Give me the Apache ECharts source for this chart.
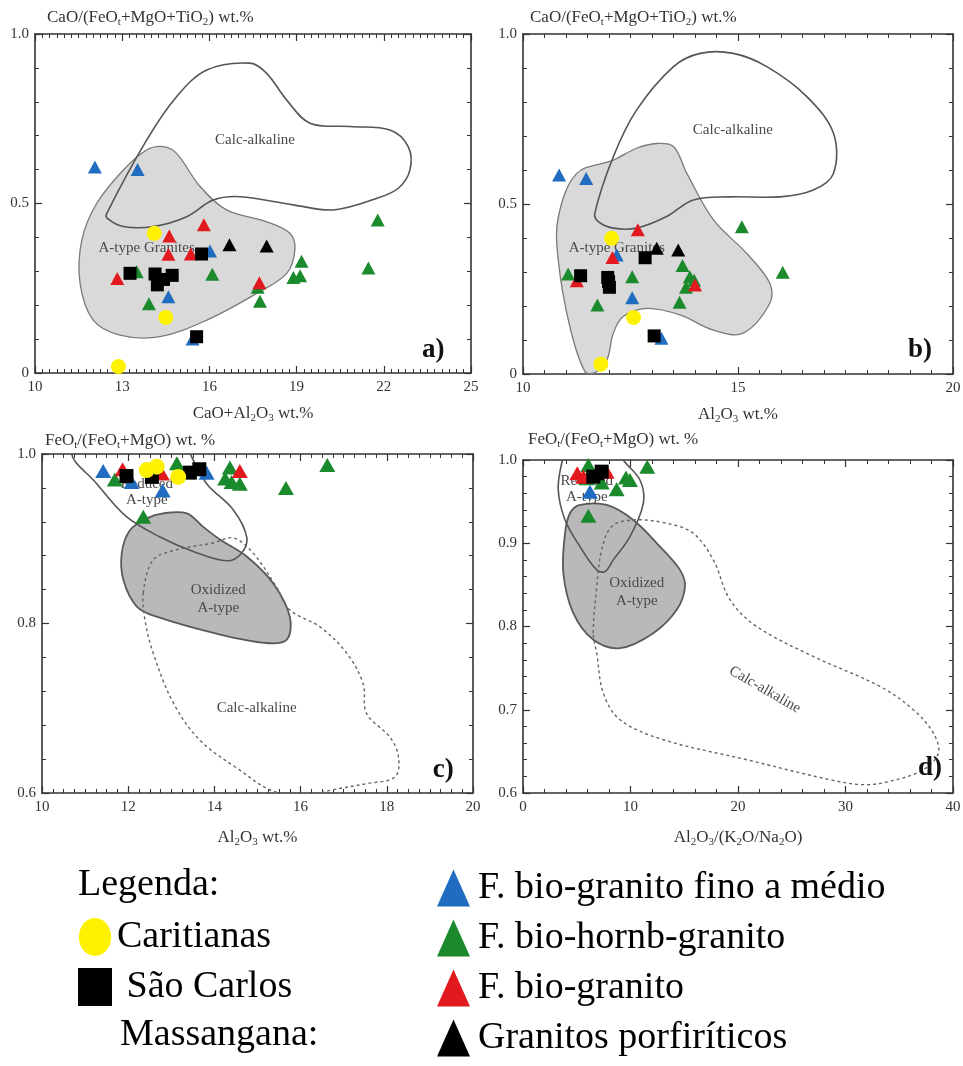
<!DOCTYPE html>
<html><head><meta charset="utf-8">
<script src="https://cdn.jsdelivr.net/npm/echarts@6/dist/echarts.min.js"></script>
<style>html,body{margin:0;padding:0;background:#fff}#c{width:963px;height:1066px}</style>
</head><body><div id="c"></div>
<script>
// ---------- series names ----------
const N_CARI = 'Caritianas';
const N_SC = 'São Carlos';
const N_BLUE = 'F. bio-granito fino a médio';
const N_GREEN = 'F. bio-hornb-granito';
const N_RED = 'F. bio-granito';
const N_BLACK = 'Granitos porfiríticos';

// ---------- panel a : CaO/(FeOt+MgO+TiO2) vs CaO+Al2O3 ----------
const a_blue = [[12.06,0.608],[13.53,0.60],[16.02,0.36],[14.59,0.225],[15.42,0.10]];
const a_green = [[21.79,0.451],[19.17,0.33],[21.47,0.31],[19.12,0.287],[18.89,0.282],[16.1,0.291],[13.5,0.299],[13.92,0.204],[17.66,0.253],[17.74,0.212]];
const a_red = [[15.81,0.437],[14.62,0.404],[14.59,0.35],[15.36,0.351],[12.83,0.279],[17.72,0.266]];
const a_blackTri = [[16.69,0.378],[17.97,0.375]];
const a_square = [[13.27,0.294],[15.73,0.351],[14.13,0.292],[14.72,0.288],[14.42,0.276],[14.21,0.26],[15.56,0.107]];
const a_yellow = [[14.1,0.412],[14.5,0.164],[12.87,0.019]];

// ---------- panel b : CaO/(FeOt+MgO+TiO2) vs Al2O3 ----------
const b_blue = [[10.84,0.585],[11.47,0.575],[12.18,0.35],[12.54,0.224],[13.22,0.105]];
const b_green = [[15.09,0.433],[16.04,0.299],[11.05,0.294],[12.54,0.286],[13.71,0.319],[13.88,0.286],[13.98,0.276],[13.79,0.255],[11.73,0.203],[13.64,0.211]];
const b_red = [[12.67,0.424],[12.08,0.343],[11.25,0.274],[14.0,0.262]];
const b_blackTri = [[13.11,0.37],[13.61,0.365]];
const b_square = [[11.34,0.289],[12.84,0.342],[11.97,0.284],[11.99,0.272],[12.01,0.255],[13.05,0.112]];
const b_yellow = [[12.06,0.399],[12.57,0.166],[11.81,0.029]];

// ---------- panel c : FeOt/(FeOt+MgO) vs Al2O3 ----------
const c_blue = [[11.42,0.980],[12.08,0.967],[12.8,0.957],[13.82,0.978]];
const c_green = [[11.69,0.970],[13.13,0.989],[14.36,0.984],[14.25,0.971],[14.4,0.967],[14.59,0.965],[15.66,0.96],[16.62,0.987],[12.35,0.926]];
const c_red = [[11.87,0.982],[12.78,0.977],[14.59,0.98]];
const c_blackTri = [[12.58,0.985]];
const c_square = [[11.96,0.974],[12.55,0.973],[13.43,0.978],[13.65,0.982]];
const c_yellow = [[12.43,0.981],[12.66,0.985],[13.16,0.973]];

// ---------- panel d : FeOt/(FeOt+MgO) vs Al2O3/(K2O/Na2O) ----------
const d_blue = [[6.23,0.962]];
const d_green = [[6.08,0.994],[11.56,0.992],[9.58,0.979],[7.32,0.973],[8.71,0.965],[5.92,0.978],[6.08,0.933],[9.95,0.976]];
const d_red = [[5.05,0.984],[7.78,0.986],[5.61,0.98]];
const d_blackTri = [[6.85,0.984]];
const d_square = [[7.32,0.986],[6.54,0.98]];
const d_yellow = [];

// ---------- field outlines (data units) ----------
const a_calcAlk = [[12.47,0.471],[13.84,0.687],[14.87,0.815],[15.91,0.894],[17.40,0.914],[17.97,0.884],[18.66,0.805],[19.46,0.737],[20.84,0.727],[22.21,0.717],[22.84,0.668],[22.90,0.599],[22.50,0.545],[21.75,0.515],[20.26,0.481],[18.89,0.496],[17.05,0.520],[16.13,0.510],[15.22,0.461],[14.07,0.432],[13.04,0.432],[12.49,0.456]];
const a_aType = [[14.41,0.668],[14.87,0.648],[15.68,0.55],[16.59,0.481],[17.97,0.446],[18.77,0.412],[18.94,0.363],[18.66,0.294],[17.63,0.235],[15.91,0.156],[14.30,0.107],[12.92,0.112],[12.0,0.156],[11.55,0.265],[11.61,0.392],[12.12,0.5],[13.04,0.599],[13.84,0.658]];
const b_calcAlk = [[11.67,0.473],[12.10,0.639],[12.64,0.776],[13.50,0.904],[14.12,0.943],[14.89,0.943],[15.67,0.904],[16.60,0.816],[17.22,0.708],[17.22,0.590],[16.75,0.541],[15.98,0.521],[14.81,0.521],[13.96,0.512],[13.34,0.463],[12.64,0.429],[12.10,0.429],[11.75,0.448]];
const b_aType = [[13.11,0.678],[13.50,0.669],[13.81,0.590],[14.43,0.453],[15.20,0.355],[15.74,0.267],[15.74,0.208],[15.12,0.120],[14.43,0.129],[13.65,0.174],[12.88,0.193],[12.33,0.169],[12.10,0.120],[11.95,0.041],[11.67,0.004],[11.44,0.007],[11.09,0.139],[10.82,0.335],[10.82,0.461],[11.25,0.590],[12.10,0.629],[12.64,0.664]];
const c_reduced = [[10.69,1.003],[11.27,0.965],[11.96,0.926],[12.74,0.902],[13.51,0.885],[14.29,0.874],[14.63,0.883],[14.75,0.902],[14.44,0.934],[13.82,0.965],[13.47,0.997],[13.2,1.03],[11.5,1.04]];
const c_oxidized = [[12.81,0.930],[13.36,0.930],[13.74,0.914],[14.13,0.899],[14.75,0.879],[15.37,0.847],[15.75,0.808],[15.68,0.781],[15.21,0.777],[14.05,0.788],[12.66,0.808],[12.20,0.820],[11.89,0.851],[11.85,0.883],[12.04,0.910],[12.43,0.924]];
const c_calcAlk = [[12.35,0.836],[12.58,0.875],[13.12,0.887],[13.97,0.895],[14.44,0.901],[14.90,0.883],[15.44,0.843],[15.75,0.816],[16.45,0.796],[17.07,0.765],[17.45,0.729],[17.53,0.694],[18.07,0.666],[18.27,0.643],[18.19,0.619],[17.53,0.611],[16.76,0.604],[16.22,0.598],[15.37,0.602],[14.59,0.627],[13.67,0.662],[13.05,0.706],[12.58,0.765],[12.39,0.804]];
const d_reduced = [[3.6,0.996],[3.28,0.964],[3.91,0.928],[5.30,0.896],[6.86,0.868],[7.63,0.866],[8.40,0.880],[9.95,0.908],[11.19,0.948],[10.88,0.976],[9.33,1.0],[8.0,1.03],[4.5,1.03]];
const d_oxidized = [[5.30,0.946],[7.79,0.946],[10.26,0.928],[12.74,0.896],[14.6,0.868],[15.07,0.848],[14.3,0.820],[12.12,0.792],[9.02,0.774],[6.54,0.784],[4.68,0.816],[3.75,0.864],[3.91,0.912],[4.37,0.936]];
const d_calcAlk = [[6.54,0.792],[6.86,0.848],[7.32,0.892],[8.25,0.920],[10.26,0.928],[13.37,0.924],[15.84,0.912],[17.70,0.880],[19.26,0.832],[21.74,0.800],[27.0,0.764],[33.21,0.728],[36.31,0.700],[38.17,0.672],[38.64,0.648],[37.24,0.628],[34.14,0.614],[31.66,0.610],[28.56,0.616],[20.81,0.640],[13.05,0.664],[9.02,0.688],[7.47,0.720],[6.86,0.768]];

// ---------- field labels [text, x, y, rotationDeg, kind] ----------
const a_labels = [['Calc-alkaline',17.57,0.687,0,''],['A-type Granites',13.84,0.368,0,''],['a)',23.7,0.068,0,'tag']];
const b_labels = [['Calc-alkaline',14.88,0.718,0,''],['A-type Granites',12.18,0.37,0,''],['b)',19.23,0.07,0,'tag']];
const c_labels = [['Reduced',12.43,0.965,0,''],['A-type',12.43,0.946,0,''],['Oxidized',14.09,0.84,0,''],['A-type',14.09,0.818,0,''],['Calc-alkaline',14.98,0.70,0,''],['c)',19.31,0.627,0,'tag']];
const d_labels = [['Reduced',5.93,0.975,0,''],['A-type',5.93,0.956,0,''],['Oxidized',10.58,0.852,0,''],['A-type',10.58,0.83,0,''],['Calc-alkaline',22.5,0.724,-30,''],['d)',37.86,0.63,0,'tag']];

// ---------- axis ticks ----------
const xTicks = [ {min:10,max:25,interval:3,minor:12}, {min:10,max:20,interval:5,minor:10}, {min:10,max:20,interval:2,minor:8}, {min:0,max:40,interval:10,minor:5} ];
const yTicks = [ {min:0,max:1,interval:0.5,minor:5}, {min:0,max:1,interval:0.5,minor:5}, {min:0.6,max:1,interval:0.2,minor:5}, {min:0.6,max:1,interval:0.1,minor:5} ];
const xNames = ['{n|CaO+Al}{s|2}{n|O}{s|3}{n| wt.%}', '{n|Al}{s|2}{n|O}{s|3}{n| wt.%}', '{n|Al}{s|2}{n|O}{s|3}{n| wt.%}', '{n|Al}{s|2}{n|O}{s|3}{n|/(K}{s|2}{n|O/Na}{s|2}{n|O)}'];
const yNames = ['{n|CaO/(FeO}{s|t}{n|+MgO+TiO}{s|2}{n|) wt.%}', '{n|CaO/(FeO}{s|t}{n|+MgO+TiO}{s|2}{n|) wt.%}', '{n|FeO}{s|t}{n|/(FeO}{s|t}{n|+MgO) wt. %}', '{n|FeO}{s|t}{n|/(FeO}{s|t}{n|+MgO) wt. %}'];

// ---------- layout / style ----------
const FONT = '"Liberation Serif", "Times New Roman", serif';
const grids = [
  {left:35, top:34, width:436, height:339},
  {left:523, top:34, width:430, height:340},
  {left:42, top:454, width:431, height:339},
  {left:523, top:460, width:430, height:333}
];
const yNameGap = [6, 6, 3, 10];
const yNamePad = [12, 7, 3, 5];
const xNameGap = [31, 31, 35, 35];
const COL = {blue:'#1f6cc0', green:'#1a8a2c', red:'#e2191f', black:'#000000', yellow:'#fff200'};
const AX = '#333';

const rich = {
  n: {fontFamily: FONT, fontSize: 17, color: AX, lineHeight: 20},
  s: {fontFamily: FONT, fontSize: 11, color: AX, lineHeight: 12, verticalAlign: 'bottom'}
};

const xAxis = [], yAxis = [];
grids.forEach((g, i) => {
  const xt = xTicks[i], yt = yTicks[i];
  const common = (t) => ({
    type: 'value', min: t.min, max: t.max, interval: t.interval,
    splitLine: {show: false},
    axisLine: {show: true, onZero: false, lineStyle: {color: AX, width: 1.6}},
    axisTick: {show: true, inside: true, length: 7, lineStyle: {color: AX, width: 1.2}},
    minorTick: {show: true, splitNumber: t.minor, length: 4, lineStyle: {color: AX, width: 1}},
    minorSplitLine: {show: false}
  });
  xAxis.push(Object.assign(common(xt), {
    gridIndex: i, position: 'bottom',
    axisLabel: {show: true, color: AX, fontFamily: FONT, fontSize: 15, margin: 7, showMinLabel: true, showMaxLabel: true},
    name: xNames[i], nameLocation: 'middle', nameGap: xNameGap[i],
    nameTextStyle: {rich: rich}
  }));
  xAxis.push(Object.assign(common(xt), {gridIndex: i, position: 'top', axisLabel: {show: false}}));
  const fmt = (i < 2) ? (v => v === 0 ? '0' : v.toFixed(1)) : (v => v.toFixed(1));
  yAxis.push(Object.assign(common(yt), {
    gridIndex: i, position: 'left',
    axisLabel: {show: true, color: AX, fontFamily: FONT, fontSize: 15, margin: 6, formatter: fmt, showMinLabel: true, showMaxLabel: true},
    name: yNames[i], nameLocation: 'end', nameGap: yNameGap[i],
    nameTextStyle: {align: 'left', verticalAlign: 'bottom', padding: [0, 0, 0, yNamePad[i]], rich: rich}
  }));
  yAxis.push(Object.assign(common(yt), {gridIndex: i, position: 'right', axisLabel: {show: false}}));
});

function regionSeries(gi, items) {
  return {
    type: 'custom', xAxisIndex: gi * 2, yAxisIndex: gi * 2, silent: true, z: 1,
    data: [0],
    renderItem: function (params, api) {
      const cs = params.coordSys;
      return {
        type: 'group',
        clipPath: {type: 'rect', shape: {x: cs.x, y: cs.y, width: cs.width, height: cs.height}},
        children: items.map(it => ({
          type: 'polygon',
          shape: {points: it.pts.map(p => api.coord(p)), smooth: 0.35},
          style: {fill: it.fill || 'none', stroke: it.stroke, lineWidth: it.width, lineDash: it.dash || null}
        }))
      };
    }
  };
}
function labelSeries(gi, labels) {
  return {
    type: 'custom', xAxisIndex: gi * 2, yAxisIndex: gi * 2, silent: true, z: 2,
    data: [0],
    renderItem: function (params, api) {
      return {
        type: 'group',
        children: labels.map(l => {
          const p = api.coord([l[1], l[2]]);
          const tag = l[4] === 'tag';
          return {
            type: 'text', x: p[0], y: p[1], rotation: l[3] * Math.PI / 180,
            style: {
              text: l[0], align: 'center', verticalAlign: 'middle',
              fill: tag ? '#111' : '#4a4a4a',
              font: (tag ? 'bold 27px ' : '15px ') + FONT
            }
          };
        })
      };
    }
  };
}
function pts(gi, name, data, symbol, size, color) {
  return {
    type: 'scatter', name: name, xAxisIndex: gi * 2, yAxisIndex: gi * 2, z: 3,
    data: data, symbol: symbol, symbolSize: size,
    itemStyle: {color: color, opacity: 1},
    emphasis: {disabled: true}
  };
}

const panels = [
  {blue:a_blue, green:a_green, red:a_red, tri:a_blackTri, sq:a_square, yel:a_yellow, labels:a_labels,
   regions:[{pts:a_aType, fill:'#d9d9d9', stroke:'#7a7a7a', width:1.3},{pts:a_calcAlk, stroke:'#555', width:1.6}], big:false},
  {blue:b_blue, green:b_green, red:b_red, tri:b_blackTri, sq:b_square, yel:b_yellow, labels:b_labels,
   regions:[{pts:b_aType, fill:'#d9d9d9', stroke:'#7a7a7a', width:1.3},{pts:b_calcAlk, stroke:'#555', width:1.6}], big:false},
  {blue:c_blue, green:c_green, red:c_red, tri:c_blackTri, sq:c_square, yel:c_yellow, labels:c_labels,
   regions:[{pts:c_oxidized, fill:'#b9b9b9', stroke:'#5a5a5a', width:1.8},{pts:c_calcAlk, stroke:'#666', width:1.4, dash:[3,3]},{pts:c_reduced, stroke:'#555', width:1.6}], big:true},
  {blue:d_blue, green:d_green, red:d_red, tri:d_blackTri, sq:d_square, yel:d_yellow, labels:d_labels,
   regions:[{pts:d_oxidized, fill:'#b9b9b9', stroke:'#5a5a5a', width:1.8},{pts:d_calcAlk, stroke:'#666', width:1.4, dash:[3,3]},{pts:d_reduced, stroke:'#555', width:1.6}], big:true}
];

const series = [];
panels.forEach((p, i) => {
  series.push(regionSeries(i, p.regions));
  series.push(labelSeries(i, p.labels));
  const tri = p.big ? [16, 14] : [14, 13];
  const sq = p.big ? 14 : 13;
  const cir = p.big ? 16 : 15;
  series.push(pts(i, N_GREEN, p.green, 'triangle', tri, COL.green));
  series.push(pts(i, N_BLUE, p.blue, 'triangle', tri, COL.blue));
  series.push(pts(i, N_RED, p.red, 'triangle', tri, COL.red));
  series.push(pts(i, N_BLACK, p.tri, 'triangle', tri, COL.black));
  series.push(pts(i, N_SC, p.sq, 'rect', sq, COL.black));
  series.push(pts(i, N_CARI, p.yel, 'circle', cir, COL.yellow));
});

const legendText = {fontFamily: FONT, fontSize: 38, color: '#000', lineHeight: 40};
const option = {
  backgroundColor: '#fff',
  animation: false,
  grid: grids.map(g => Object.assign({containLabel: false, outerBoundsMode: 'none'}, g)),
  xAxis: xAxis,
  yAxis: yAxis,
  legend: [
    {data: [{name: N_CARI, icon: 'path://M0,20A17,20,0,1,1,34,20A17,20,0,1,1,0,20Z'}, N_SC], orient: 'vertical', left: 78, top: 917, padding: 0, itemWidth: 34, itemHeight: 38, itemGap: 10,
     selectedMode: false, textStyle: legendText, formatter: n => n === N_SC ? ' ' + n : n},
    {data: [N_BLUE, N_GREEN, N_RED, N_BLACK], orient: 'vertical', left: 437, top: 868, padding: 0, itemWidth: 33, itemHeight: 37, itemGap: 10,
     selectedMode: false, textStyle: Object.assign({padding: [0, 0, 0, 3]}, legendText)}
  ],
  graphic: [
    {type: 'text', left: 78, top: 866, style: {text: 'Legenda:', font: '38px ' + FONT, fill: '#000'}},
    {type: 'text', left: 120, top: 1016, style: {text: 'Massangana:', font: '38px ' + FONT, fill: '#000'}}
  ],
  series: series
};

const chart = echarts.init(document.getElementById('c'), null, {renderer: 'canvas'});
chart.setOption(option);
</script></body></html>
